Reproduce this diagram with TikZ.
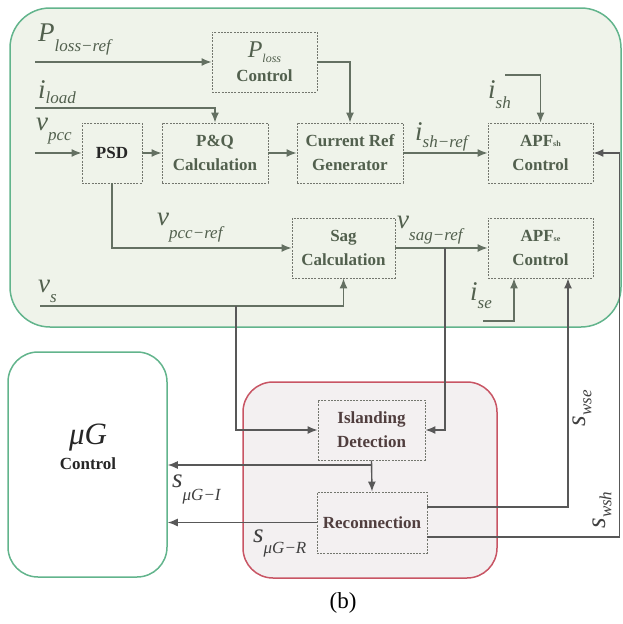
\documentclass[tikz,border=0pt]{standalone}
\usepackage{fontspec}
\setmainfont{Liberation Serif}
\usetikzlibrary{arrows.meta,calc}

\definecolor{gfill}{RGB}{239,243,234}
\definecolor{gedge}{RGB}{98,180,140}
\definecolor{gline}{RGB}{100,112,98}
\definecolor{gtext}{RGB}{82,96,78}
\definecolor{rfill}{RGB}{243,240,241}
\definecolor{redge}{RGB}{200,85,100}
\definecolor{rtext}{RGB}{80,62,62}
\definecolor{dline}{RGB}{88,88,88}
\definecolor{boxedge}{RGB}{115,118,110}

% signal label: big italic symbol with a lowered italic subscript
\newcommand{\sig}[3][10]{{\fontsize{27}{27}\selectfont\itshape #2}\raisebox{-#1pt}{\fontsize{17}{17}\selectfont\itshape #3}}

\begin{document}
\begin{tikzpicture}[x=1pt,y=-1pt,
  panel/.style={rounded corners=#1, line width=1.5pt, inner sep=0pt},
  blk/.style={draw=boxedge, line width=0.9pt, dash pattern=on 2pt off 1.2pt,
    font=\fontsize{17}{24}\selectfont\bfseries, text=gtext, align=center,
    inner sep=0pt},
  redblk/.style={blk, text=rtext},
  conn/.style={line width=1.4pt, draw=gline, -{Latex[length=10pt,width=8pt]}},
  dconn/.style={conn, draw=dline},
  lab/.style={anchor=base west, inner sep=0pt, text=gtext},
  dlab/.style={lab, text=black!75}
]
\useasboundingbox (0,0) rectangle (622,624);

% panels
\node[panel=40pt, draw=gedge, fill=gfill, minimum width=611pt, minimum height=319pt] (gp) at (315.5,167.5) {};
\node[panel=30pt, draw=gedge, fill=white, minimum width=159pt, minimum height=225pt] (ug) at (87.5,464.5) {};
\node[panel=30pt, draw=redge, fill=rfill, minimum width=254pt, minimum height=196pt] (rp) at (370,480) {};

% blocks
\node[blk, minimum width=105pt, minimum height=60pt] (ploss) at (264.5,62)
  {{\fontsize{24}{24}\selectfont\mdseries\itshape P}\raisebox{-5pt}{\fontsize{12}{12}\selectfont\mdseries\itshape loss}\\[0pt]Control};
\node[blk, minimum width=60pt, minimum height=60pt, text=black!85] (psd) at (112,153) {PSD};
\node[blk, minimum width=106pt, minimum height=60pt] (pq) at (215,153) {P\&Q\\Calculation};
\node[blk, minimum width=106pt, minimum height=60pt] (cref) at (350,153) {Current Ref\\Generator};
\node[blk, minimum width=105pt, minimum height=60pt] (apfsh) at (540.5,153) {APF{\fontsize{8}{8}\selectfont sh}\\Control};
\node[blk, minimum width=103pt, minimum height=60pt] (sag) at (343.5,248) {Sag\\Calculation};
\node[blk, minimum width=105pt, minimum height=60pt] (apfse) at (540.5,248) {APF{\fontsize{8}{8}\selectfont se}\\Control};
\node[redblk, minimum width=107pt, minimum height=60pt] (isl) at (371.5,430) {Islanding\\Detection};
\node[redblk, minimum width=110pt, minimum height=61pt] (rec) at (372,522.5) {Reconnection};

% microgrid controller text
\node[inner sep=0pt, align=center, text=black!85] (ugtxt) at (88,447)
  {{\fontsize{31}{31}\selectfont\itshape μG}\\[6pt]{\fontsize{17}{17}\selectfont\bfseries Control}};

% free ends and junctions
\coordinate (plossIn) at (35,62);
\coordinate (iloadIn) at (35,108);
\coordinate (vpccIn) at (35,153);
\coordinate (ishIn) at (505,75);
\coordinate (vsIn) at (40,306);
\coordinate (iseIn) at (483,321);
\coordinate (jsag) at (445,248);
\coordinate (jvs) at (236,306);
\coordinate (jisl) at (372,465);
\coordinate (apfseL) at ($(apfse.south)+(-26.5,0)$);
\coordinate (apfseR) at ($(apfse.south)+(27.5,0)$);
\coordinate (rwse) at ($(rec.east)+(0,-15.5)$);
\coordinate (rwsh) at ($(rec.east)+(0,14.5)$);
\coordinate (rail) at ($(apfsh.east)+(26,0)$);

% connectors in the compensator panel
\draw[conn] (plossIn) -- (ploss.west);
\draw[conn] (ploss.east) -| (cref.north);
\draw[conn] (iloadIn) -| (pq.north);
\draw[conn] (vpccIn) -- (psd.west);
\draw[conn] (psd.east) -- (pq.west);
\draw[conn] (pq.east) -- (cref.west);
\draw[conn] (cref.east) -- (apfsh.west);
\draw[conn] (ishIn) -| (apfsh.north);
\draw[conn] (psd.south) |- (sag.west);
\draw[conn] (sag.east) -- (apfse.west);
\draw[conn] (vsIn) -| (sag.south);
\draw[conn] (iseIn) -| (apfseL);

% connectors to and from the islanding unit
\draw[dconn] (jsag) |- (isl.east);
\draw[dconn] (jvs) |- (isl.west);
\draw[dconn] (isl.south) -- (rec.north);
\draw[dconn] (jisl) -- (jisl -| ug.east);
\draw[dconn] (rec.west) -- (rec.west -| ug.east);
\draw[dconn] (rwse) -| (apfseR);
\draw[dconn] (rwsh) -| (rail) -- (apfsh.east);

% signal labels
\node[lab] (lploss) at (38,41) {\sig{P}{loss−ref}};
\node[lab] (liload) at (38,98) {\sig[5]{i}{load}};
\node[lab] (lvpcc) at (36,130) {\sig{v}{pcc}};
\node[lab] (lishref) at (415,140) {\sig[7]{i}{sh−ref}};
\node[lab] (lish) at (488,98) {\sig{i}{sh}};
\node[lab] (lvpccref) at (157,225) {\sig[13]{v}{pcc−ref}};
\node[lab] (lvsag) at (397,228) {\sig[12]{v}{sag−ref}};
\node[lab] (lvs) at (38,292) {\sig{v}{s}};
\node[lab] (lise) at (470,300) {\sig[8]{i}{se}};
\node[dlab] (lsugi) at (172,487) {\sig[13]{s}{μG−I}};
\node[dlab] (lsugr) at (253,542) {\sig[11]{s}{μG−R}};
\node[inner sep=0pt, rotate=90, text=black!75] (lswse) at (582,408) {\sig[6]{s}{wse}};
\node[inner sep=0pt, rotate=90, text=black!75] (lswsh) at (602,510) {\sig[6]{s}{wsh}};

% caption
\node[inner sep=0pt, font=\fontsize{23}{23}\selectfont] (cap) at (343,603) {(b)};
\end{tikzpicture}
\end{document}
